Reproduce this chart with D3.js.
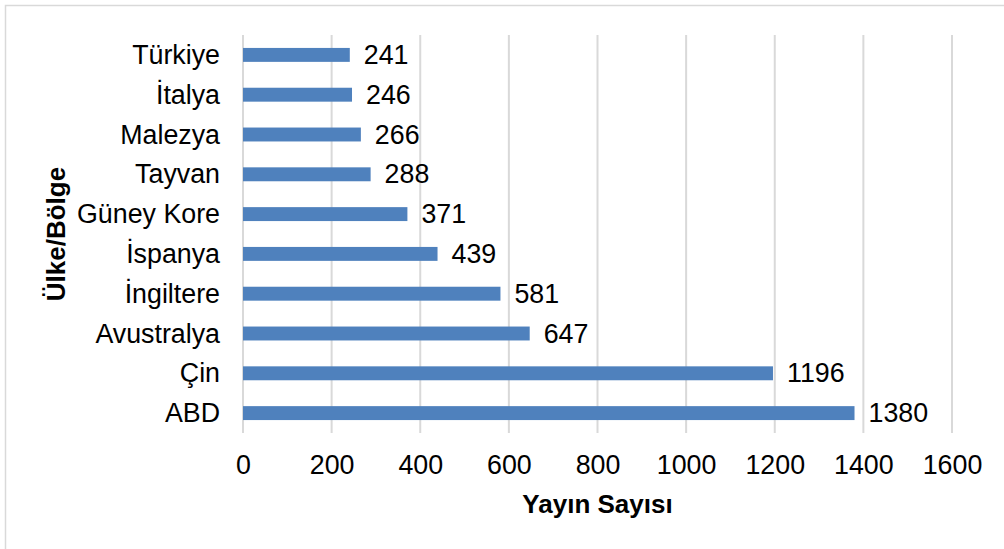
<!DOCTYPE html>
<html>
<head>
<meta charset="utf-8">
<script src="https://cdn.jsdelivr.net/npm/d3@7/dist/d3.min.js"></script>
<style>
  html, body { margin: 0; padding: 0; background: #fff; }
  svg { display: block; font-family: "Liberation Sans", Arial, sans-serif; }
</style>
</head>
<body>
<script>
// Publication counts by country/region
const countries = ["Türkiye", "İtalya", "Malezya", "Tayvan", "Güney Kore", "İspanya", "İngiltere", "Avustralya", "Çin", "ABD"];
const counts = [241, 246, 266, 288, 371, 439, 581, 647, 1196, 1380];
const xTicks = [0, 200, 400, 600, 800, 1000, 1200, 1400, 1600];
const xTitle = "Yayın Sayısı";
const yTitle = "Ülke/Bölge";

const W = 1004, H = 549;
const plot = { left: 243, right: 952, top: 35, bottom: 433 };
const labelSize = 26.8;

const svg = d3.select("body").append("svg").attr("width", W).attr("height", H);

// frame around the chart area
svg.append("rect")
  .attr("x", 5.5).attr("y", 5.5)
  .attr("width", W + 20).attr("height", H + 20)
  .attr("fill", "none").attr("stroke", "#d9d9d9").attr("stroke-width", 1.5);

const x = d3.scaleLinear().domain([0, 1600]).range([plot.left, plot.right]);
const y = d3.scaleBand().domain(countries).range([plot.top, plot.bottom]).paddingInner(0.65).paddingOuter(0.325);

// vertical gridlines
svg.append("g").selectAll("line").data(xTicks).join("line")
  .attr("x1", d => x(d)).attr("x2", d => x(d))
  .attr("y1", plot.top).attr("y2", plot.bottom)
  .attr("stroke", "#d9d9d9").attr("stroke-width", 2);

// bars
svg.append("g").selectAll("rect").data(countries).join("rect")
  .attr("x", x(0))
  .attr("y", d => y(d))
  .attr("width", (d, i) => x(counts[i]) - x(0))
  .attr("height", y.bandwidth())
  .attr("fill", "#4f81bd");

// value labels
svg.append("g").selectAll("text").data(countries).join("text")
  .attr("x", (d, i) => x(counts[i]) + 14)
  .attr("y", d => y(d) + y.bandwidth() / 2)
  .attr("dy", "0.34em")
  .attr("font-size", labelSize)
  .attr("fill", "#000")
  .text((d, i) => counts[i]);

// category axis labels
const yAxis = d3.axisLeft(y).tickSize(0).tickPadding(23);
const gy = svg.append("g").attr("transform", `translate(${plot.left},0)`).call(yAxis);
gy.select(".domain").remove();
gy.selectAll("text").attr("font-size", labelSize).attr("font-family", "'Liberation Sans', Arial, sans-serif")
  .attr("fill", "#000").attr("dy", "0.34em");

// value axis labels
const xAxis = d3.axisBottom(x).tickValues(xTicks).tickSize(0).tickPadding(22).tickFormat(d3.format("d"));
const gx = svg.append("g").attr("transform", `translate(0,${plot.bottom})`).call(xAxis);
gx.select(".domain").remove();
gx.selectAll("text").attr("font-size", labelSize).attr("font-family", "'Liberation Sans', Arial, sans-serif")
  .attr("fill", "#000");

// axis titles
svg.append("text")
  .attr("x", (plot.left + plot.right) / 2).attr("y", 513)
  .attr("text-anchor", "middle")
  .attr("font-size", 26).attr("font-weight", "bold")
  .text(xTitle);

svg.append("text")
  .attr("transform", `translate(65,${(plot.top + plot.bottom) / 2}) rotate(-90)`)
  .attr("text-anchor", "middle")
  .attr("font-size", 26).attr("font-weight", "bold")
  .text(yTitle);
</script>
</body>
</html>
